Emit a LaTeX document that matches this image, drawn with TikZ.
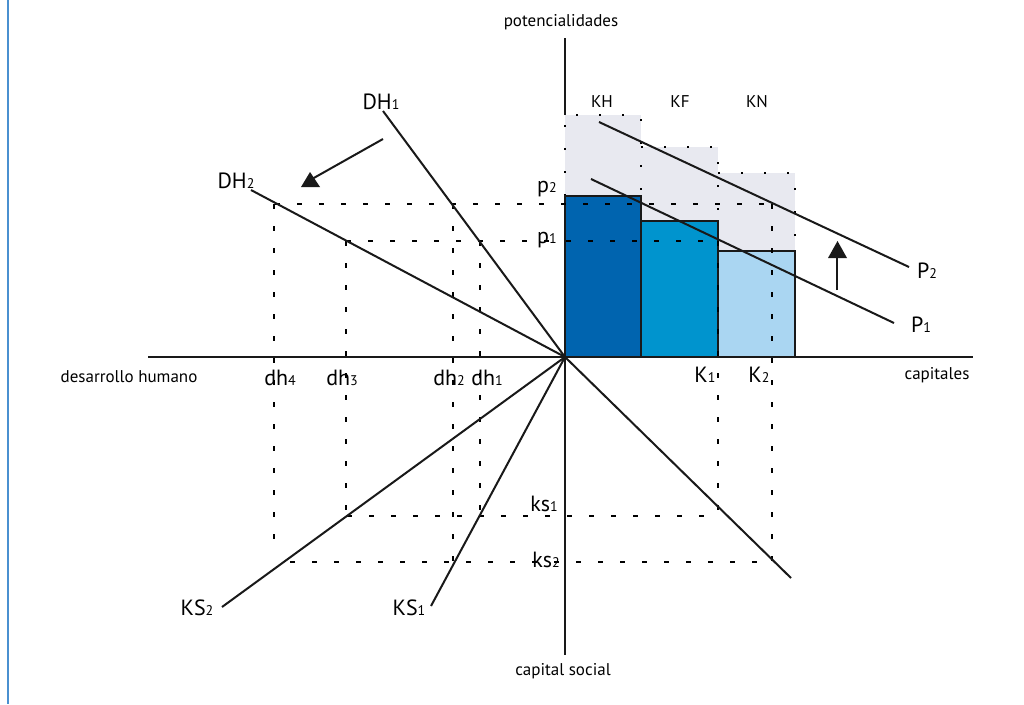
\documentclass[tikz,border=0pt]{standalone}
\usepackage{fontspec}
\setmainfont{PT Sans}
\definecolor{khblue}{RGB}{0,100,175}
\definecolor{kfblue}{RGB}{0,148,206}
\definecolor{knblue}{RGB}{170,214,242}
\definecolor{gbox}{RGB}{232,233,240}
\definecolor{frame}{RGB}{74,144,208}
\newcommand\lsub[1]{{\fontsize{14}{14}\selectfont #1}}
\begin{document}
\begin{tikzpicture}[x=1pt,y=-1pt,
 ax/.style={line width=2.2pt, black!90},
 ln/.style={line width=2pt, black!90},
 dsh/.style={line width=1.5pt, black, dash pattern=on 4.5pt off 17.5pt},
 dotb/.style={line width=2pt, black, dash pattern=on 2pt off 21pt},
 big/.style={font=\fontsize{22}{22}\selectfont, inner sep=0pt, anchor=base},
 sml/.style={font=\fontsize{17}{17}\selectfont, inner sep=0pt, anchor=base},
 bar/.style={draw=black!90, line width=2.2pt}]
\useasboundingbox (0,0) rectangle (1024,704);
\draw[line width=2pt, frame] (8,0) -- (8,704);

% coordinates
\coordinate (O) at (565,357);
\coordinate (axL) at (148,357);
\coordinate (axR) at (973,357);
\coordinate (axT) at (565,38);
\coordinate (axTg) at (565,115);
\coordinate (axB) at (565,655);
\coordinate (dh1e) at (383,111);
\coordinate (dh2e) at (251,190);
\coordinate (ks1e) at (431,606);
\coordinate (ks2e) at (222,607);
\coordinate (q4e) at (791,578);

% gray boxes
\fill[gbox] (565,115) rectangle (641,357);
\fill[gbox] (641,147) rectangle (718,357);
\fill[gbox] (718,173) rectangle (795,357);
\draw[dotb] (565,196) -- (565,115) -- (641,115) -- (641,196);
\draw[dotb] (641,147) -- (718,147) -- (718,221);
\draw[dotb] (718,173) -- (795,173) -- (795,251);

% bars
\filldraw[bar, fill=khblue] (565,357) rectangle (641,196);
\filldraw[bar, fill=kfblue] (641,357) rectangle (718,221);
\filldraw[bar, fill=knblue] (718,357) rectangle (795,251);

% dashed guide lines
\coordinate (p2a) at (275,204); \coordinate (p2b) at (772,204);
\coordinate (p1a) at (346,241); \coordinate (p1b) at (718,241);
\coordinate (d4a) at (274,204); \coordinate (d4b) at (274,546);
\coordinate (d3a) at (346,241); \coordinate (d3b) at (346,516);
\coordinate (d2a) at (453,204); \coordinate (d2b) at (453,562);
\coordinate (d1a) at (480,241); \coordinate (d1b) at (480,516);
\coordinate (s1a) at (347,516); \coordinate (s1b) at (718,516);
\coordinate (s2a) at (290,562); \coordinate (s2b) at (772,562);
\coordinate (k1a) at (718,241); \coordinate (k2a) at (772,204);
\draw[dsh] (p2a) -- (p2b);
\draw[dsh] (p1a) -- (p1b);
\draw[dsh] (d4a) -- (d4b);
\draw[dsh] (d3a) -- (d3b);
\draw[dsh] (d2a) -- (d2b);
\draw[dsh] (d1a) -- (d1b);
\draw[dsh] (s1a) -- (s1b);
\draw[dsh] (s2a) -- (s2b);
\draw[dsh] (k1a) -- (s1b);
\draw[dsh] (k2a) -- (s2b);

% axes
\draw[ax] (axL) -- (axR);
\draw[ax] (axT) -- (axTg);
\draw[ax] (O) -- (axB);

% lines through origin
\draw[ln] (O) -- (dh1e);
\draw[ln] (O) -- (dh2e);
\draw[ln] (O) -- (ks1e);
\draw[ln] (O) -- (ks2e);
\draw[ln] (O) -- (q4e);

% P lines
\coordinate (P2a) at (599,122); \coordinate (P2b) at (909,267);
\coordinate (P1a) at (591,179); \coordinate (P1b) at (894,323);
\draw[ln] (P2a) -- (P2b);
\draw[ln] (P1a) -- (P1b);

% arrows
\coordinate (a1s) at (383,139); \coordinate (a1e) at (312,179);
\draw[ln] (a1s) -- (a1e);
\fill[black!90] (301,187) -- (310,172) -- (320,187) -- cycle;
\coordinate (a2s) at (837,290); \coordinate (a2e) at (837,256);
\draw[ln] (a2s) -- (a2e);
\fill[black!90] (828,258) -- (837.5,241) -- (847,258) -- cycle;

% labels
\node[sml] (tpot) at (561,27) {potencialidades};
\node[sml] (tkh) at (602,107) {KH};
\node[sml] (tkf) at (680,107) {KF};
\node[sml] (tkn) at (757,107) {KN};
\node[big] (tDH1) at (381,109) {DH\lsub{1}};
\node[big] (tDH2) at (236,188) {DH\lsub{2}};
\node[big] (tp2) at (547,192) {p\lsub{2}};
\node[big] (tp1) at (547,243) {p\lsub{1}};
\node[big] (tP2) at (927,278) {P\lsub{2}};
\node[big] (tP1) at (921,332) {P\lsub{1}};
\node[sml] (tdes) at (129,382) {desarrollo humano};
\node[big] (tdh4) at (280,385) {dh\lsub{4}};
\node[big] (tdh3) at (342,385) {dh\lsub{3}};
\node[big] (tdh2) at (449,385) {dh\lsub{2}};
\node[big] (tdh1) at (487,385) {dh\lsub{1}};
\node[big] (tK1) at (705,382) {K\lsub{1}};
\node[big] (tK2) at (759,382) {K\lsub{2}};
\node[sml] (tcap) at (937,379) {capitales};
\node[big] (tks1) at (544,511) {ks\lsub{1}};
\node[big] (tks2) at (546,567) {ks\lsub{2}};
\node[big] (tKS2) at (197,615) {KS\lsub{2}};
\node[big] (tKS1) at (409,615) {KS\lsub{1}};
\node[sml] (tcs) at (563,675) {capital social};
\end{tikzpicture}
\end{document}
